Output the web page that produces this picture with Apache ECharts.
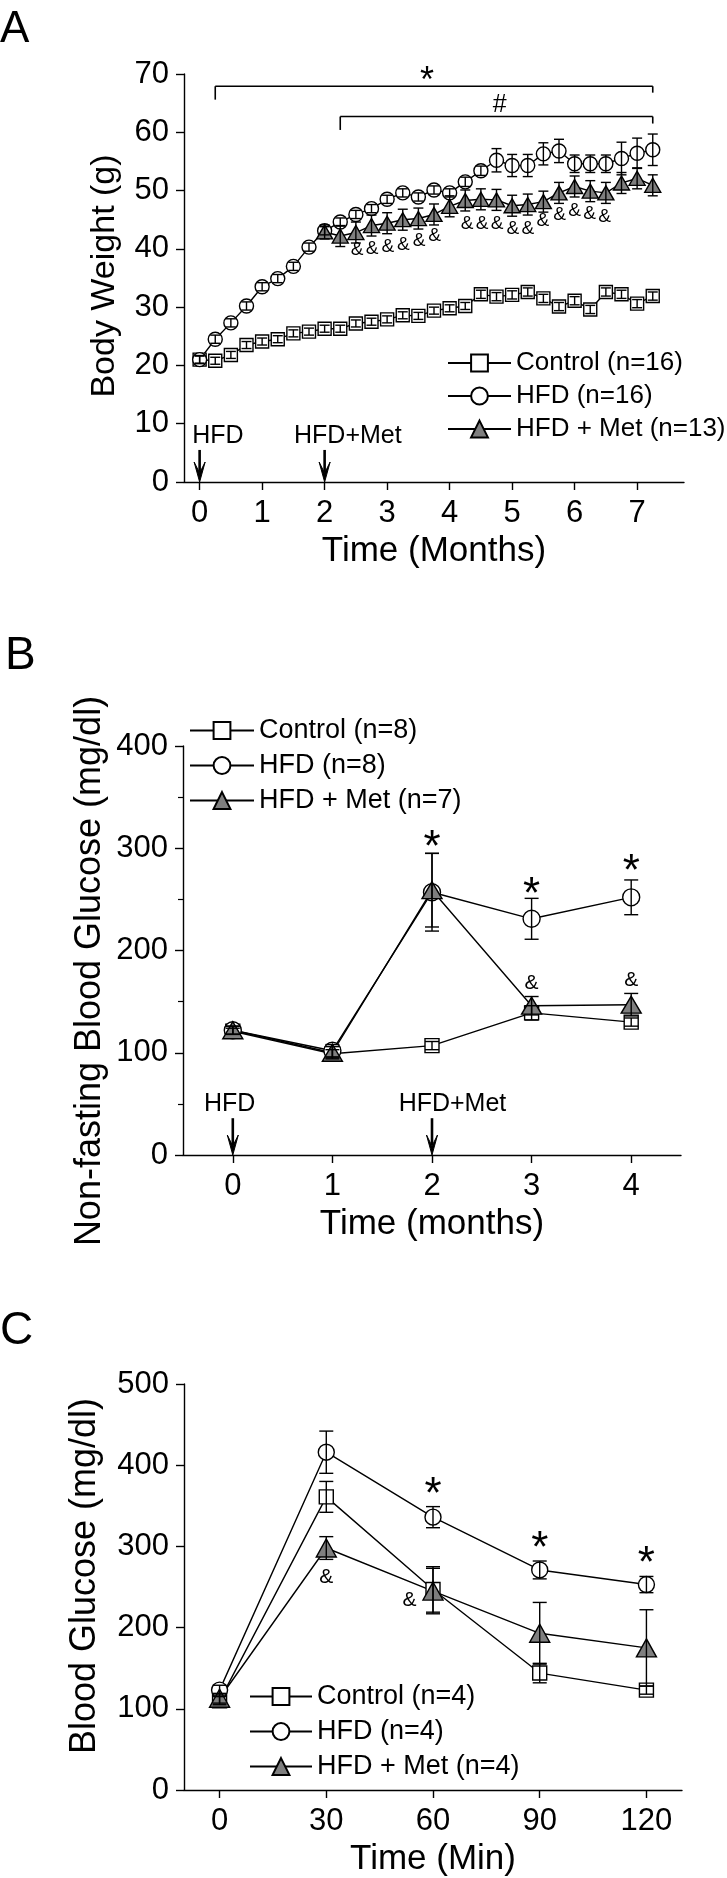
<!DOCTYPE html>
<html><head><meta charset="utf-8">
<script src="https://cdn.jsdelivr.net/npm/echarts@6/dist/echarts.min.js"></script>
<style>html,body{margin:0;padding:0;background:#fff}#c{width:727px;height:1878px}</style>
</head><body><div id="c"></div>
<script>
// ---------- Panel A: body weight ----------
const monthsA = [0,0.25,0.5,0.75,1,1.25,1.5,1.75,2,2.25,2.5,2.75,3,3.25,3.5,3.75,4,4.25,4.5,4.75,5,5.25,5.5,5.75,6,6.25,6.5,6.75,7,7.25];
const controlA = [21.0,20.8,21.8,23.5,24.1,24.5,25.5,25.8,26.3,26.3,27.2,27.5,27.9,28.6,28.5,29.4,29.8,30.2,32.2,31.8,32.1,32.6,31.5,30.1,31.1,29.6,32.6,32.2,30.6,31.9];
const controlA_sem = [0.6,0.6,0.6,0.6,0.6,0.6,0.6,0.6,0.6,0.6,0.6,0.6,0.6,0.6,0.6,0.6,0.6,0.6,0.7,0.7,0.7,0.7,0.7,0.7,0.7,0.7,0.7,0.7,0.7,0.7];
const hfdA = [21.0,24.5,27.3,30.2,33.5,34.9,37.0,40.3,43.1,44.6,45.9,46.9,48.5,49.6,48.9,50.1,49.6,51.5,53.4,55.2,54.3,54.3,56.3,56.8,54.6,54.6,54.6,55.5,56.4,57.0];
const hfdA_sem = [0.7,0.7,0.7,0.7,0.7,0.7,0.7,0.7,0.7,0.7,0.7,0.7,0.7,0.7,0.7,0.7,0.7,0.8,0.8,2.0,1.9,1.9,1.9,2.0,1.5,1.5,1.5,2.8,2.6,2.7];
const monthsMetA = [2,2.25,2.5,2.75,3,3.25,3.5,3.75,4,4.25,4.5,4.75,5,5.25,5.5,5.75,6,6.25,6.5,6.75,7,7.25];
const metA = [42.9,42.2,42.8,44.0,44.4,45.0,45.2,45.9,47.3,48.3,48.5,48.4,47.4,47.6,48.1,49.6,50.7,49.9,49.6,51.3,52.1,50.9];
const metA_sem = [1.2,1.8,1.8,1.8,1.8,1.8,1.8,1.8,1.8,1.8,1.8,1.8,1.8,1.8,1.8,1.8,1.8,1.8,1.8,1.8,1.8,1.8];
const xTicksA = [0,1,2,3,4,5,6,7];
const namesA = ['Control (n=16)','HFD (n=16)','HFD + Met (n=13)'];
// significance marks A: [x, y, text]
const signifA = [[3.64,70.0,'*']];
const hashA = [[4.8,64.7,'#']];
const bracketsA = [[0.25,7.25,67.9,65.6,66.8],[2.25,7.25,62.7,60.4,61.5]]; // x1, x2, y, leftTickEnd, rightTickEnd
const ampA = [[2.52,39.8],[2.76,40.1],[3.01,40.4],[3.26,40.7],[3.51,41.4],[3.76,42.2],
  [4.28,44.25],[4.52,44.25],[4.76,44.25],[5.01,43.5],[5.25,43.5],[5.49,44.9],
  [5.76,45.8],[6.0,46.5],[6.24,46.1],[6.48,45.5]];
const arrowsA = [[0,5.5,0],[2,5.5,0]];
const eventLabelsA = [[-0.12,7.8,'HFD'],[1.51,7.8,'HFD+Met']];

// ---------- Panel B: non-fasting blood glucose ----------
const monthsB = [0,1,2,3,4];
const controlB = [121,99,107,139,130];
const controlB_sem = [3,4,4,7,4];
const hfdB = [122,102,257,231,252];
const hfdB_sem = [4,6,38,20,17];
const metB = [122,100,259,146,147];
const metB_sem = [4,6,36,9,11];
const xTicksB = [0,1,2,3,4];
const namesB = ['Control (n=8)','HFD (n=8)','HFD + Met (n=7)'];
const signifB = [[2,309,'*'],[3,263,'*'],[4,286,'*']];
const ampB = [[3,168],[4,171]];
const arrowsB = [[0,36,0],[2,36,0]];
const eventLabelsB = [[-0.29,50,'HFD'],[1.665,50,'HFD+Met']];

// ---------- Panel C: glucose tolerance ----------
const minutesC = [0,30,60,90,120];
const controlC = [110,361,247,144,123];
const controlC_sem = [5,19,28,12,5];
const hfdC = [123,416,336,271,253];
const hfdC_sem = [6,26,13,11,10];
const metC = [113,298,245,193,175];
const metC_sem = [6,14,28,38,47];
const xTicksC = [0,30,60,90,120];
const namesC = ['Control (n=4)','HFD (n=4)','HFD + Met (n=4)'];
const signifC = [[60,375,'*'],[90,308,'*'],[120,290,'*']];
const ampC = [[30,262],[53.4,234]];

// ---------- helpers ----------
const FONT = 'Liberation Sans, Arial, sans-serif';
const GRAY = '#7f7f7f';
function pairs(xs, ys){ return xs.map((x,i)=>[x, ys[i]]); }
function errData(xs, ys, es){ return xs.map((x,i)=>[x, ys[i]-es[i], ys[i]+es[i]]); }

function errRender(capW){
  return function(params, api){
    const x = api.value(0);
    const pLo = api.coord([x, api.value(1)]);
    const pHi = api.coord([x, api.value(2)]);
    const st = {stroke:'#000', lineWidth:1.4};
    return {type:'group', children:[
      {type:'line', shape:{x1:pLo[0],y1:pLo[1],x2:pHi[0],y2:pHi[1]}, style:st},
      {type:'line', shape:{x1:pLo[0]-capW/2,y1:pLo[1],x2:pLo[0]+capW/2,y2:pLo[1]}, style:st},
      {type:'line', shape:{x1:pHi[0]-capW/2,y1:pHi[1],x2:pHi[0]+capW/2,y2:pHi[1]}, style:st}
    ]};
  };
}
function textRender(arr, size, align, dy){
  return function(params, api){
    const p = api.coord([api.value(0), api.value(1)]);
    const t = arr[params.dataIndex][2];
    return {type:'text', x:p[0], y:p[1] + dy, style:{text: t !== undefined ? t : '&',
      fontSize:size, fontFamily:FONT, fill:'#000', align:align, verticalAlign:'middle'}};
  };
}
function bracketRender(params, api){
  const y = api.value(2);
  const a = api.coord([api.value(0), y]);
  const b = api.coord([api.value(1), y]);
  const aEnd = api.coord([api.value(0), api.value(3)]);
  const bEnd = api.coord([api.value(1), api.value(4)]);
  const st = {stroke:'#000', lineWidth:1.6};
  return {type:'group', children:[
    {type:'line', shape:{x1:a[0],y1:a[1],x2:b[0],y2:b[1]}, style:st},
    {type:'line', shape:{x1:a[0],y1:a[1],x2:aEnd[0],y2:aEnd[1]}, style:st},
    {type:'line', shape:{x1:b[0],y1:b[1],x2:bEnd[0],y2:bEnd[1]}, style:st}
  ]};
}
function arrowRender(headW, headH){
  return function(params, api){
    const top = api.coord([api.value(0), api.value(1)]);
    const bot = api.coord([api.value(0), api.value(2)]);
    const cx = bot[0], by = bot[1];
    return {type:'group', children:[
      {type:'line', shape:{x1:top[0],y1:top[1],x2:cx,y2:by-headH*0.5}, style:{stroke:'#000', lineWidth:2.6}},
      {type:'polygon', shape:{points:[[cx-headW/2, by-headH],[cx, by-headH*0.45],[cx+headW/2, by-headH],[cx, by]]},
        style:{fill:'#000', stroke:'#000', lineWidth:1}}
    ]};
  };
}
function lineSeries(name, data, gi, symbol, size, fill){
  return {type:'line', name, data, xAxisIndex:gi, yAxisIndex:gi, symbol, symbolSize:size, showAllSymbol:true,
    lineStyle:{color:'#000', width:1.4}, itemStyle:{color:fill, borderColor:'#000', borderWidth:1.4},
    emphasis:{disabled:true}, z:2};
}
function customSeries(data, gi, renderItem, z){
  return {type:'custom', data, xAxisIndex:gi, yAxisIndex:gi, renderItem, clip:false, silent:true, z: z || 5};
}
function xAxis(gi, min, max, ticks, name){
  return {type:'value', gridIndex:gi, min, max, name, nameLocation:'middle', nameGap:52,
    nameTextStyle:{fontSize:35, fontFamily:FONT, color:'#000'},
    axisLine:{show:true, onZero:false, lineStyle:{color:'#000', width:1.4}},
    axisTick:{show:true, inside:false, length:8, customValues:ticks, lineStyle:{color:'#000', width:1.4}},
    axisLabel:{show:true, customValues:ticks, margin:16, fontSize:31, fontFamily:FONT, color:'#000'},
    splitLine:{show:false}};
}
function yAxis(gi, max, interval, minor){
  return {type:'value', gridIndex:gi, min:0, max, interval,
    axisLine:{show:true, onZero:false, lineStyle:{color:'#000', width:1.4}},
    axisTick:{show:true, inside:false, length:8, lineStyle:{color:'#000', width:1.4}},
    minorTick:{show:!!minor, splitNumber:2, length:5, lineStyle:{color:'#000', width:1.2}},
    axisLabel:{margin:15, fontSize:31, fontFamily:FONT, color:'#000'},
    splitLine:{show:false}, minorSplitLine:{show:false}};
}
function legend(names, left, top, w, size, gap){
  return {data:names, orient:'vertical', left, top, itemWidth:w, itemHeight:21, itemGap:gap, padding:0,
    selectedMode:false, textStyle:{fontSize:size, fontFamily:FONT, color:'#000'}};
}
function vTitle(text, x, y, size){
  return {type:'text', x, y, rotation:Math.PI/2, silent:true,
    style:{text, fontSize:size, fontFamily:FONT, fill:'#000', align:'center', verticalAlign:'middle'}};
}

const option = {
  animation:false,
  backgroundColor:'#fff',
  graphic:[
    {type:'text', left:0, top:8, style:{text:'A', fontSize:44, fontFamily:FONT, fill:'#000'}},
    {type:'text', left:5, top:633, style:{text:'B', fontSize:46, fontFamily:FONT, fill:'#000'}},
    {type:'text', left:0, top:1308, style:{text:'C', fontSize:46, fontFamily:FONT, fill:'#000'}},
    vTitle('Body Weight (g)', 105, 276, 34),
    vTitle('Non-fasting Blood Glucose (mg/dl)', 90, 971, 36),
    vTitle('Blood Glucose (mg/dl)', 85, 1576, 36)
  ],
  grid:[
    {left:184, top:74, width:500, height:408},
    {left:183, top:746, width:498, height:409},
    {left:184, top:1384, width:498, height:409}
  ],
  legend:[
    legend(namesA, 447, 350, 63, 26, 7),
    legend(namesB, 189, 717, 64, 27, 8),
    legend(namesC, 249, 1683, 62, 27, 8)
  ],
  xAxis:[
    xAxis(0, -0.25, 7.75, xTicksA, 'Time (Months)'),
    xAxis(1, -0.5, 4.5, xTicksB, 'Time (months)'),
    xAxis(2, -10, 130, xTicksC, 'Time (Min)')
  ],
  yAxis:[
    yAxis(0, 70, 10, false),
    yAxis(1, 400, 100, true),
    yAxis(2, 500, 100, false)
  ],
  series:[
    // A
    lineSeries(namesA[0], pairs(monthsA, controlA), 0, 'rect', 13, '#fff'),
    lineSeries(namesA[1], pairs(monthsA, hfdA), 0, 'circle', 14, '#fff'),
    lineSeries(namesA[2], pairs(monthsMetA, metA), 0, 'triangle', [16,14], GRAY),
    customSeries(errData(monthsA, controlA, controlA_sem), 0, errRender(10)),
    customSeries(errData(monthsA, hfdA, hfdA_sem), 0, errRender(10)),
    customSeries(errData(monthsMetA, metA, metA_sem), 0, errRender(10)),
    customSeries(bracketsA, 0, bracketRender),
    customSeries(signifA, 0, textRender(signifA, 36, 'center', 8)),
    customSeries(hashA, 0, textRender(hashA, 25, 'center', 0)),
    customSeries(ampA, 0, textRender(ampA, 19, 'center', 0)),
    customSeries(arrowsA, 0, arrowRender(11, 20)),
    customSeries(eventLabelsA, 0, textRender(eventLabelsA, 25, 'left', 0)),
    // B
    lineSeries(namesB[0], pairs(monthsB, controlB), 1, 'rect', 14, '#fff'),
    lineSeries(namesB[1], pairs(monthsB, hfdB), 1, 'circle', 17, '#fff'),
    lineSeries(namesB[2], pairs(monthsB, metB), 1, 'triangle', [20,17], GRAY),
    customSeries(errData(monthsB, controlB, controlB_sem), 1, errRender(14)),
    customSeries(errData(monthsB, hfdB, hfdB_sem), 1, errRender(14)),
    customSeries(errData(monthsB, metB, metB_sem), 1, errRender(14)),
    customSeries(signifB, 1, textRender(signifB, 44, 'center', 10)),
    customSeries(ampB, 1, textRender(ampB, 21, 'center', 0)),
    customSeries(arrowsB, 1, arrowRender(11, 20)),
    customSeries(eventLabelsB, 1, textRender(eventLabelsB, 25, 'left', 0)),
    // C
    lineSeries(namesC[0], pairs(minutesC, controlC), 2, 'rect', 14, '#fff'),
    lineSeries(namesC[1], pairs(minutesC, hfdC), 2, 'circle', 16, '#fff'),
    lineSeries(namesC[2], pairs(minutesC, metC), 2, 'triangle', [20,18], GRAY),
    customSeries(errData(minutesC, controlC, controlC_sem), 2, errRender(14)),
    customSeries(errData(minutesC, hfdC, hfdC_sem), 2, errRender(14)),
    customSeries(errData(minutesC, metC, metC_sem), 2, errRender(14)),
    customSeries(signifC, 2, textRender(signifC, 44, 'center', 10)),
    customSeries(ampC, 2, textRender(ampC, 21, 'center', 0))
  ]
};
const chart = echarts.init(document.getElementById('c'), null, {renderer:'canvas'});
chart.setOption(option);
</script></body></html>
